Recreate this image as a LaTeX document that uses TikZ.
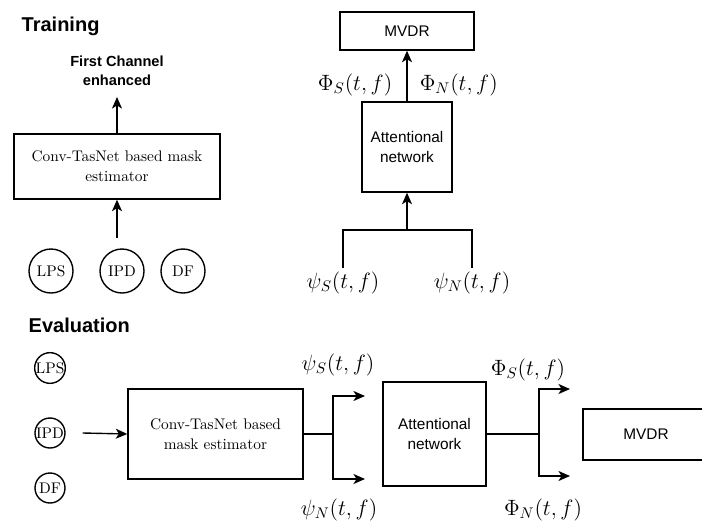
\documentclass[tikz,border=0pt]{standalone}
\usepackage{fontspec}
\newfontfamily\labelsf{Liberation Sans}
\usetikzlibrary{arrows.meta}

\tikzset{
  block/.style={draw, align=center, inner sep=0pt, font=\fontsize{10}{13}\selectfont},
  sfblock/.style={block, font=\labelsf\fontsize{10}{12.5}\selectfont},
  feat/.style={draw, circle, inner sep=0pt, font=\fontsize{10}{12}\selectfont},
  heading/.style={anchor=west, inner sep=0pt, font=\labelsf\bfseries\fontsize{13}{15}\selectfont},
  mathlabel/.style={inner sep=2pt, font=\fontsize{14.5}{17}\selectfont},
  flow/.style={-{Stealth[length=7.5pt,width=6.5pt,inset=2pt]}},
}

\begin{document}
\begin{tikzpicture}[x=0.65pt, y=-0.65pt, line width=0.9pt]
    \clip (0,0) rectangle (702,526);

    % training, left part
    \node[heading] (train) at (21,26) {Training};
    \node[align=center, font=\labelsf\bfseries\fontsize{9.5}{12}\selectfont] (enh) at (117,71) {First Channel\\enhanced};
    \coordinate (enhin) at (117,97);
    \node[block, minimum width=133.9pt, minimum height=42.25pt] (mask1) at (117,166.5) {Conv-TasNet based mask\\estimator};
    \coordinate (mask1in) at (117,238);
    \node[feat, minimum size=28.6pt] (lps1) at (51,271) {LPS};
    \node[feat, minimum size=28.6pt] (ipd1) at (122,271) {IPD};
    \node[feat, minimum size=28.6pt] (df1) at (183,271) {DF};
    \draw[flow] (mask1in) -- (mask1.south);
    \draw[flow] (mask1.north) -- (enhin);

    % training, right part
    \node[sfblock, minimum width=87.1pt, minimum height=24.7pt] (mvdr1) at (407,31) {MVDR};
    \node[sfblock, minimum width=58.5pt, minimum height=58.5pt] (att1) at (407,147) {Attentional\\network};
    \draw[flow] (att1.north) -- (mvdr1.south);
    \node[mathlabel, anchor=east] (phis1) at (396,85) {$\Phi_S(t,f)$};
    \node[mathlabel, anchor=west] (phin1) at (416,85) {$\Phi_N(t,f)$};
    \coordinate (join1) at (407,230);
    \node[mathlabel, anchor=north] (psis1) at (343,268) {$\psi_S(t,f)$};
    \node[mathlabel, anchor=north] (psin1) at (472,268) {$\psi_N(t,f)$};
    \draw (psis1.north) |- (join1) -| (psin1.north);
    \draw[flow] (join1) -- (att1.south);

    % evaluation
    \node[heading] (eval) at (28,325) {Evaluation};
    \node[feat, minimum size=19.5pt] (lps2) at (50,368) {LPS};
    \node[feat, minimum size=19.5pt] (ipd2) at (50,433) {IPD};
    \node[feat, minimum size=19.5pt] (df2) at (50,488) {DF};

    \node[block, minimum width=113.75pt, minimum height=58.5pt] (mask2) at (215.5,434) {Conv-TasNet based\\mask estimator};
    \draw[flow] ([xshift=11pt]ipd2.east) -- (mask2.west);

    % mask outputs
    \coordinate (split2) at (333,434);
    \coordinate (psis2in) at (365,396);
    \coordinate (psin2in) at (365,479);
    \draw (mask2.east) -- (split2);
    \draw[flow] (split2) |- (psis2in);
    \draw[flow] (split2) |- (psin2in);
    \node[mathlabel] (psis2) at (338,365) {$\psi_S(t,f)$};
    \node[mathlabel] (psin2) at (339,510) {$\psi_N(t,f)$};

    \node[sfblock, minimum width=67pt, minimum height=67.6pt] (att2) at (434.5,434) {Attentional\\network};

    % attention outputs
    \coordinate (split3) at (539,434);
    \coordinate (phis2in) at (570,389);
    \coordinate (phin2in) at (570,476);
    \draw (att2.east) -- (split3);
    \draw[flow] (split3) |- (phis2in);
    \draw[flow] (split3) |- (phin2in);
    \node[mathlabel] (phis2) at (528,370) {$\Phi_S(t,f)$};
    \node[mathlabel] (phin2) at (543,510) {$\Phi_N(t,f)$};

    \node[sfblock, minimum width=81.9pt, minimum height=33.15pt] (mvdr2) at (646,434.5) {MVDR};
  \end{tikzpicture}
\end{document}
